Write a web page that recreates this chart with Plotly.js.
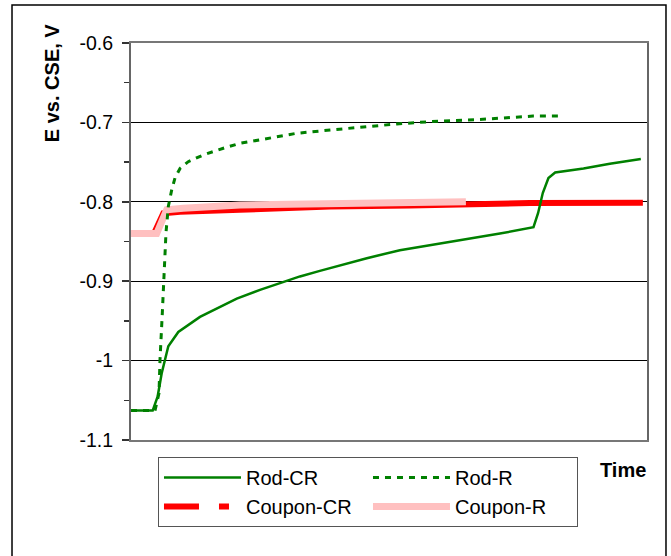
<!DOCTYPE html>
<html>
<head>
<meta charset="utf-8">
<script src="https://cdn.plot.ly/plotly-3.0.1.min.js"></script>
<style>
  html, body { margin: 0; padding: 0; background: #ffffff; }
  #chart { width: 671px; height: 556px; }
</style>
</head>
<body>
<div id="chart"></div>
<script>
// ---- data (time in arbitrary units 0..100, potential in V vs CSE) ----
const rodCrTime = [0, 4.2, 5.17, 5.95, 7.23, 9.17, 13.37, 17.25, 20.5, 25.0, 30.2, 32.75, 36.6, 39.2, 45.7, 52.1, 58.6, 65.7, 71.5, 78.0, 78.9, 79.8, 80.9, 82.2, 87.7, 92.8, 98.8];
const rodCrE    = [-1.063, -1.063, -1.045, -1.016, -0.982, -0.964, -0.945, -0.932, -0.922, -0.911, -0.900, -0.894, -0.887, -0.8825, -0.871, -0.861, -0.854, -0.846, -0.840, -0.832, -0.814, -0.789, -0.770, -0.763, -0.758, -0.752, -0.746];

const rodRTime = [0, 4.65, 5.43, 5.62, 6.07, 6.4, 6.78, 7.23, 7.89, 8.53, 9.5, 11.1, 14.0, 17.9, 21.1, 25.6, 32.1, 38.6, 45.0, 51.5, 57.9, 61.8, 68.2, 77.9, 83.7];
const rodRE    = [-1.063, -1.063, -1.041, -0.999, -0.940, -0.898, -0.839, -0.806, -0.785, -0.770, -0.758, -0.7495, -0.741, -0.7326, -0.7263, -0.7213, -0.7137, -0.7096, -0.7054, -0.702, -0.6991, -0.6979, -0.6961, -0.692, -0.692];

const couponCrTime = [0, 4.46, 6.26, 9.5, 21.1, 30.8, 38.6, 54.1, 61.8, 67.6, 77.3, 99.2];
const couponCrE    = [-0.840, -0.840, -0.8145, -0.8125, -0.810, -0.808, -0.806, -0.8047, -0.8034, -0.802, -0.8016, -0.8012];

const couponRTime = [0, 4.98, 6.92, 10.1, 21.1, 32.75, 45.0, 56.0, 64.9];
const couponRE    = [-0.840, -0.840, -0.810, -0.808, -0.804, -0.803, -0.8003, -0.800, -0.800];

const yTickVals = [-1.1, -1.0, -0.9, -0.8, -0.7, -0.6];
const yTickText = ['-1.1', '-1', '-0.9', '-0.8', '-0.7', '-0.6'];

const FONT = 'Liberation Sans, Arial, sans-serif';

const traces = [
  { x: couponCrTime, y: couponCrE, name: 'Coupon-CR', mode: 'lines', legendgroup: 'ccr',
    showlegend: false, line: { color: '#ff0000', width: 6 } },
  // legend entry for Coupon-CR (long-dash / short-dash sample as in the original legend)
  { x: [null], y: [null], name: 'Coupon-CR', mode: 'lines', legendgroup: 'ccr', legendrank: 3,
    line: { color: '#ff0000', width: 6, dash: '35px,20px,10px,20px' } },
  { x: couponRTime, y: couponRE, name: 'Coupon-R', mode: 'lines', legendrank: 4,
    line: { color: '#ffc0c0', width: 7 } },
  { x: rodCrTime, y: rodCrE, name: 'Rod-CR', mode: 'lines', legendrank: 1,
    line: { color: '#008000', width: 2.5 } },
  { x: rodRTime, y: rodRE, name: 'Rod-R', mode: 'lines', legendrank: 2,
    line: { color: '#008000', width: 3, dash: '6px,6px' } }
];

const layout = {
  width: 671, height: 556,
  margin: { l: 131, r: 24, t: 43, b: 116 },
  paper_bgcolor: '#ffffff', plot_bgcolor: '#ffffff',
  font: { family: FONT, size: 20, color: '#000000' },
  showlegend: true,
  legend: {
    orientation: 'h', x: 0.0523, y: -0.043, xanchor: 'left', yanchor: 'top',
    bordercolor: '#555555', borderwidth: 1, bgcolor: '#ffffff',
    entrywidth: 117, entrywidthmode: 'pixels', itemwidth: 77,
    font: { family: FONT, size: 20, color: '#000000' },
    traceorder: 'normal'
  },
  xaxis: {
    range: [0, 100], showticklabels: false, ticks: '', showgrid: false, zeroline: false,
    showline: true, linecolor: '#777777', linewidth: 2, mirror: true, fixedrange: true
  },
  yaxis: {
    range: [-1.1, -0.6], tickvals: yTickVals, ticktext: yTickText,
    ticks: 'outside', ticklen: 7, tickwidth: 1.5, tickcolor: '#333333',
    ticklabelstandoff: 5,
    tickfont: { family: FONT, size: 19.5, color: '#000000' },
    showgrid: true, gridcolor: '#000000', gridwidth: 1, zeroline: false,
    showline: true, linecolor: '#666666', linewidth: 2, mirror: true,
    minor: { dtick: 0.05, ticks: 'outside', ticklen: 5, tickcolor: '#333333', showgrid: false },
    fixedrange: true
  },
  annotations: [
    { text: '<b>E vs. CSE, V</b>', xref: 'paper', yref: 'paper', x: -0.153, y: 0.899,
      xanchor: 'center', yanchor: 'middle', textangle: -90, showarrow: false,
      font: { family: FONT, size: 20, color: '#000000' } },
    { text: '<b>Time</b>', xref: 'paper', yref: 'paper', x: 1.002, y: -0.0756,
      xanchor: 'right', yanchor: 'middle', showarrow: false,
      font: { family: FONT, size: 20, color: '#000000' } }
  ],
  shapes: [
    { type: 'rect', xref: 'paper', yref: 'paper', x0: -0.2306, x1: 1.0368, y0: -0.31, y1: 1.0957,
      line: { color: '#000000', width: 1.5 }, fillcolor: 'rgba(0,0,0,0)', layer: 'below' }
  ]
};

Plotly.newPlot('chart', traces, layout, { displayModeBar: false, staticPlot: true });
</script>
</body>
</html>
